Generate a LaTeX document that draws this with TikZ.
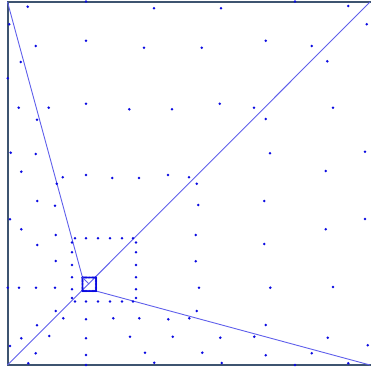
\documentclass[tikz,border=0pt]{standalone}
\usepackage{tikz}
\usetikzlibrary{calc}
\definecolor{framegray}{RGB}{62,84,112}
\definecolor{meshblue}{RGB}{95,95,235}
\definecolor{dotblue}{RGB}{10,10,225}

\begin{document}
\begin{tikzpicture}[x=1pt, y=-1pt,
    frameline/.style={draw=framegray, line width=2pt},
    meshline/.style={draw=meshblue, line width=0.9pt},
    pt/.style={fill=dotblue, draw=none}]

        \useasboundingbox (0,0) rectangle (370,371);

        % --- Rahmen ---
        \coordinate (tl) at (7.5,2);
        \coordinate (tr) at (370,2);
        \coordinate (bl) at (7.5,365);
        \coordinate (br) at (370,365);
        \draw[frameline] (371,2) -- (tl) -- (bl) -- (371,365);

        % --- kleines Quadrat ---
        \coordinate (qtl) at (82.5,277.5);
        \coordinate (qbr) at (96,291);
        \coordinate (qmid) at (89.2,284.2);

        % --- Verbindungslinien ---
        \draw[meshline] (tl) -- (qtl);
        \draw[meshline] (bl) -- (tr);
        \draw[meshline] (qbr) -- (br);

        % --- Punkte aussen ---
        \foreach \x/\y in {27.7/6.7, 86/1.5, 154/8.3, 9.3/24.3, 86/40.7, 35.7/46,
            144/47.7, 20.7/62, 7.7/78.3, 18.7/107.7, 48.7/107.7, 86/103.7,
            129.3/109.3, 172/109.3, 37/119.7, 10.7/152.7, 35.7/154, 21.3/171.7,
            62.7/177.3, 86/175, 112.3/178, 139/178, 168/175, 56.7/183.7,
            221/8.3, 295/1.5, 348.3/6, 366.7/24.3, 201.7/47.7, 265.7/40.7,
            311.7/46, 327.3/61.3, 219.7/103.7, 254/107.7, 265.7/119, 333/107.7,
            270/153.3, 365/151.7, 325.7/171, 189/177.3, 196.7/183.7}
            \fill[pt] (\x,\y) circle (1.4);

        \foreach \x/\y in {37.3/201, 55/205.7, 10/219.3, 21.3/229.3, 55.7/235,
            37.3/245, 55.7/261, 7.7/287.7, 19/287.7, 36/287.7, 55/287.7,
            55.7/311, 63.3/318.3, 86/319.3, 113.3/318.3, 139.3/318.3, 168.3/319.3,
            37/325.3, 21.3/338.3, 49.3/336, 86/338.3, 130/336.7, 172.7/336.7,
            10/346, 35.7/353.3, 86/355, 145/352.7, 28.3/363.3, 154.3/362.7,
            86/365, 198.3/205, 264.3/201, 365/219, 325.7/229.3, 195.7/235,
            264.3/244, 195.7/261.3, 199/287.7, 270.3/287.7, 333/287,
            196.7/311, 189.3/318.3, 265.7/325, 220.3/337.7, 254.3/336.7,
            327.7/337.7, 367.7/345.3, 202.3/352.7, 265.7/355.3, 311.7/353.3,
            221.7/363, 295/365, 348.3/363.3}
            \fill[pt] (\x,\y) circle (1.4);

        % --- Ring um das Quadrat ---
        \foreach \x in {75,86,98,110,122,133} {
            \fill[pt] (\x,238.3) circle (1.4);
            \fill[pt] (\x,301.5) circle (1.4);
        }
        \foreach \y in {242.5,252.3,265,277.3,289.3,298} {
            \fill[pt] (72,\y) circle (1.4);
            \fill[pt] (136,\y) circle (1.4);
        }

        % --- Quadrat (dichte Punkte) ---
        \foreach \t in {0,0.08,...,1.01} {
            \fill[pt] ($(qtl)!\t!(qtl -| qbr)$) circle (1.1);
            \fill[pt] ($(qbr -| qtl)!\t!(qbr)$) circle (1.1);
            \fill[pt] ($(qtl)!\t!(qbr -| qtl)$) circle (1.1);
            \fill[pt] ($(qtl -| qbr)!\t!(qbr)$) circle (1.1);
        }
        \draw[dotblue, line width=0.8pt] (qtl) rectangle (qbr);
        \draw[meshline] (qtl) -- (qmid);
    \end{tikzpicture}
\end{document}
